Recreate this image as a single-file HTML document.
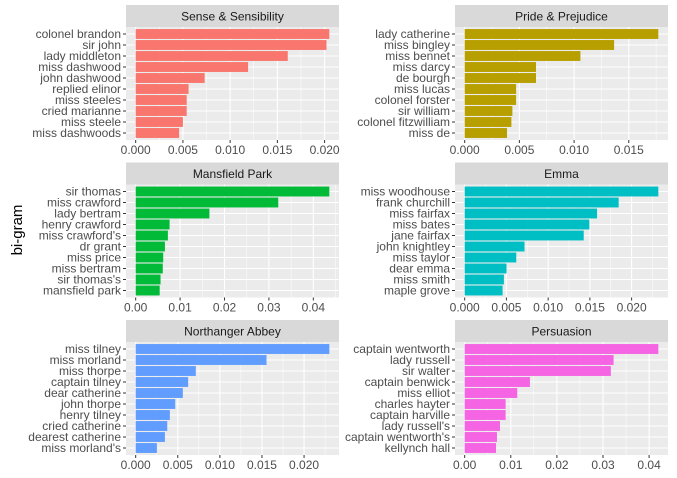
<!DOCTYPE html>
<html><head><meta charset="utf-8"><style>
html,body{margin:0;padding:0;background:#fff;}
svg{display:block;font-family:"Liberation Sans",sans-serif;}
</style></head><body>
<svg id="chart" width="677" height="478" viewBox="0 0 677 478">
<text x="0" y="0" transform="translate(22,230) rotate(-90)" text-anchor="middle" font-size="15" fill="#000">bi-gram</text>
</svg>
<script>
const titles = ["Sense & Sensibility","Pride & Prejudice","Mansfield Park","Emma","Northanger Abbey","Persuasion"];
const colors = ["#F8766D","#B79F00","#00BA38","#00BFC4","#619CFF","#F564E3"];
const labelsSS = ["colonel brandon","sir john","lady middleton","miss dashwood","john dashwood","replied elinor","miss steeles","cried marianne","miss steele","miss dashwoods"];
const valuesSS = [0.0205,0.0202,0.0161,0.0119,0.0073,0.0056,0.0054,0.0054,0.0050,0.0046];
const labelsPP = ["lady catherine","miss bingley","miss bennet","miss darcy","de bourgh","miss lucas","colonel forster","sir william","colonel fitzwilliam","miss de"];
const valuesPP = [0.0177,0.01366,0.01058,0.00652,0.00652,0.0047,0.0047,0.00436,0.00427,0.00387];
const labelsMP = ["sir thomas","miss crawford","lady bertram","henry crawford","miss crawford's","dr grant","miss price","miss bertram","sir thomas's","mansfield park"];
const valuesMP = [0.0436,0.0321,0.0166,0.00763,0.00725,0.00658,0.0062,0.0061,0.0056,0.0054];
const labelsEM = ["miss woodhouse","frank churchill","miss fairfax","miss bates","jane fairfax","john knightley","miss taylor","dear emma","miss smith","maple grove"];
const valuesEM = [0.0232,0.01845,0.01586,0.01494,0.01426,0.00717,0.00618,0.00502,0.0047,0.00454];
const labelsNA = ["miss tilney","miss morland","miss thorpe","captain tilney","dear catherine","john thorpe","henry tilney","cried catherine","dearest catherine","miss morland's"];
const valuesNA = [0.0230,0.01554,0.00714,0.00623,0.0056,0.0047,0.00406,0.00375,0.00347,0.00252];
const labelsPE = ["captain wentworth","lady russell","sir walter","captain benwick","miss elliot","charles hayter","captain harville","lady russell's","captain wentworth's","kellynch hall"];
const valuesPE = [0.0420,0.0323,0.0317,0.01415,0.0114,0.00888,0.00888,0.00765,0.0070,0.0068];
const ticksSS = [0,0.005,0.010,0.015,0.020];
const tickLabelsSS = ["0.000","0.005","0.010","0.015","0.020"];
const ticksPP = [0,0.005,0.010,0.015];
const tickLabelsPP = ["0.000","0.005","0.010","0.015"];
const ticksMP = [0,0.01,0.02,0.03,0.04];
const tickLabelsMP = ["0.00","0.01","0.02","0.03","0.04"];
const ticksEM = [0,0.005,0.010,0.015,0.020];
const tickLabelsEM = ["0.000","0.005","0.010","0.015","0.020"];
const ticksNA = [0,0.005,0.010,0.015,0.020];
const tickLabelsNA = ["0.000","0.005","0.010","0.015","0.020"];
const ticksPE = [0,0.01,0.02,0.03,0.04];
const tickLabelsPE = ["0.00","0.01","0.02","0.03","0.04"];

const allLabels=[labelsSS,labelsPP,labelsMP,labelsEM,labelsNA,labelsPE];
const allValues=[valuesSS,valuesPP,valuesMP,valuesEM,valuesNA,valuesPE];
const allTicks=[ticksSS,ticksPP,ticksMP,ticksEM,ticksNA,ticksPE];
const allTickLabels=[tickLabelsSS,tickLabelsPP,tickLabelsMP,tickLabelsEM,tickLabelsNA,tickLabelsPE];

const NS="http://www.w3.org/2000/svg";
const svg=document.getElementById('chart');
function mk(tag,attrs,parent){const e=document.createElementNS(NS,tag);for(const k in attrs)e.setAttribute(k,attrs[k]);(parent||svg).appendChild(e);return e;}

const colX=[126,455], panelW=213, rowY=[5,162.5,320], stripH=22, panelH=113;
for(let p=0;p<6;p++){
  const col=p%2,row=Math.floor(p/2);
  const x0=colX[col], y0=rowY[row]+stripH, x1=x0+panelW;
  const vals=allValues[p], labs=allLabels[p], ticks=allTicks[p], tl=allTickLabels[p];
  const mx=Math.max(...vals);
  const dmin=-0.05*mx, dmax=1.05*mx;
  const xs=v=>x0+(v-dmin)/(dmax-dmin)*panelW;
  const n=labs.length;
  const y0c=y0+7, step=(panelH-14)/ (n-1);
  const ys=i=>y0c+i*step;
  const g=mk('g',{});
  
  
  const strip=mk('rect',{x:x0,y:rowY[row],width:panelW,height:stripH,fill:'#D9D9D9'},g);
  
  
  const st=mk('text',{x:x0+panelW/2,y:rowY[row]+15.5,'text-anchor':'middle','font-size':'12',fill:'#1A1A1A'},g);
  
  
  st.textContent=titles[p];
  const bg=mk('rect',{x:x0,y:y0,width:panelW,height:panelH,fill:'#EBEBEB'},g);
  
  
  for(let i=0;i<ticks.length+1;i++){
    const step2=ticks[1]-ticks[0];
    const m=ticks[0]-step2/2+i*step2;
    if(m<dmin||m>dmax)continue;
    const l=mk('line',{x1:xs(m),x2:xs(m),y1:y0,y2:y0+panelH,stroke:'#fff','stroke-width':0.5},g);
    
    
  }
  ticks.forEach((t,i)=>{
    const l=mk('line',{x1:xs(t),x2:xs(t),y1:y0,y2:y0+panelH,stroke:'#fff','stroke-width':1.1},g);
    
    
    const tk=mk('line',{x1:xs(t),x2:xs(t),y1:y0+panelH,y2:y0+panelH+3,stroke:'#333','stroke-width':1},g);
    
    
    const tx=mk('text',{x:xs(t),y:y0+panelH+14,'text-anchor':'middle','font-size':'12',fill:'#4D4D4D'},g);
    
    
    tx.textContent=tl[i];
  });
  labs.forEach((lab,i)=>{
    const l=mk('line',{x1:x0,x2:x1,y1:ys(i),y2:ys(i),stroke:'#fff','stroke-width':1.1},g);
    
    
  });
  labs.forEach((lab,i)=>{
    const b=mk('rect',{x:xs(0),y:ys(i)-step*0.45,width:xs(vals[i])-xs(0),height:step*0.9,fill:colors[p]},g);
    
    
    const tk=mk('line',{x1:x0-3,x2:x0,y1:ys(i),y2:ys(i),stroke:'#333','stroke-width':1},g);
    
    
    const t=mk('text',{x:x0-5,y:ys(i)+4.2,'text-anchor':'end','font-size':'12',fill:'#4D4D4D'},g);
    
    
    t.textContent=lab;
  });
}
</script>
</body></html>
